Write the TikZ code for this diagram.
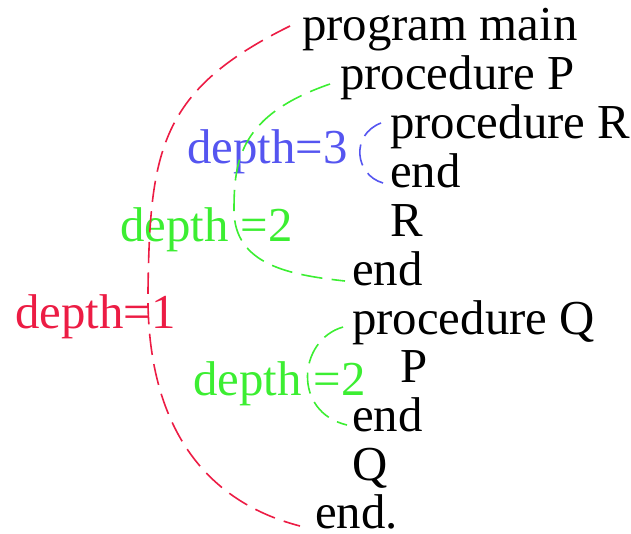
\documentclass[tikz,border=0pt]{standalone}
\usepackage{fontspec}
\setmainfont{Liberation Serif}
\definecolor{depthred}{RGB}{236,28,68}
\definecolor{depthgreen}{RGB}{60,238,50}
\definecolor{depthblue}{RGB}{85,85,240}
\tikzset{
  line/.style={anchor=base west,inner sep=0pt,font=\fontsize{36.6}{43}\selectfont},
  scopeline/.style={dash pattern=on 16pt off 7pt,line width=1.2pt},
}
\begin{document}
\begin{tikzpicture}[x=0.75pt,y=-0.75pt]
  \useasboundingbox (0,0) rectangle (631,533);
  \node[line] (main) at (302,40) {program main};
  \node[line] (procP) at (340,89) {procedure P};
  \node[line] (procR) at (390,138) {procedure R};
  \node[line] (endR) at (390,187) {end};
  \node[line] (callR) at (390,236) {R};
  \node[line] (endP) at (352,285) {end};
  \node[line] (procQ) at (352,334) {procedure Q};
  \node[line] (callP) at (400,382) {P};
  \node[line] (endQ) at (352,431) {end};
  \node[line] (callQ) at (352,480) {Q};
  \node[line] (endmain) at (315,528) {end.};
  \node[line,depthblue] (d3) at (187,163) {depth=3};
  \node[line,depthgreen] (d2a) at (120,241) {depth =2};
  \node[line,depthred] (d1) at (15,328) {depth=1};
  \node[line,depthgreen] (d2b) at (193,395) {depth =2};
  \draw[scopeline,depthred] ([shift={(-12,-14)}]main.base west)
    .. controls (160,90) and (150,150) .. (148,290)
    .. controls (146,420) and (200,500) .. ([shift={(-15,-2)}]endmain.base west);
  \draw[scopeline,depthgreen] ([shift={(-10,-5)}]procP.base west)
    .. controls (240,115) and (234,160) .. (234,210)
    .. controls (234,265) and (290,275) .. ([shift={(-7,-4)}]endP.base west);
  \draw[scopeline,depthblue] ([shift={(-9,-15)}]procR.base west)
    .. controls (350,135) and (355,175) .. ([shift={(-7,-4)}]endR.base west);
  \draw[scopeline,depthgreen] ([shift={(-9,-7)}]procQ.base west)
    .. controls (298,340) and (292,412) .. ([shift={(-5,-6)}]endQ.base west);
\end{tikzpicture}
\end{document}
